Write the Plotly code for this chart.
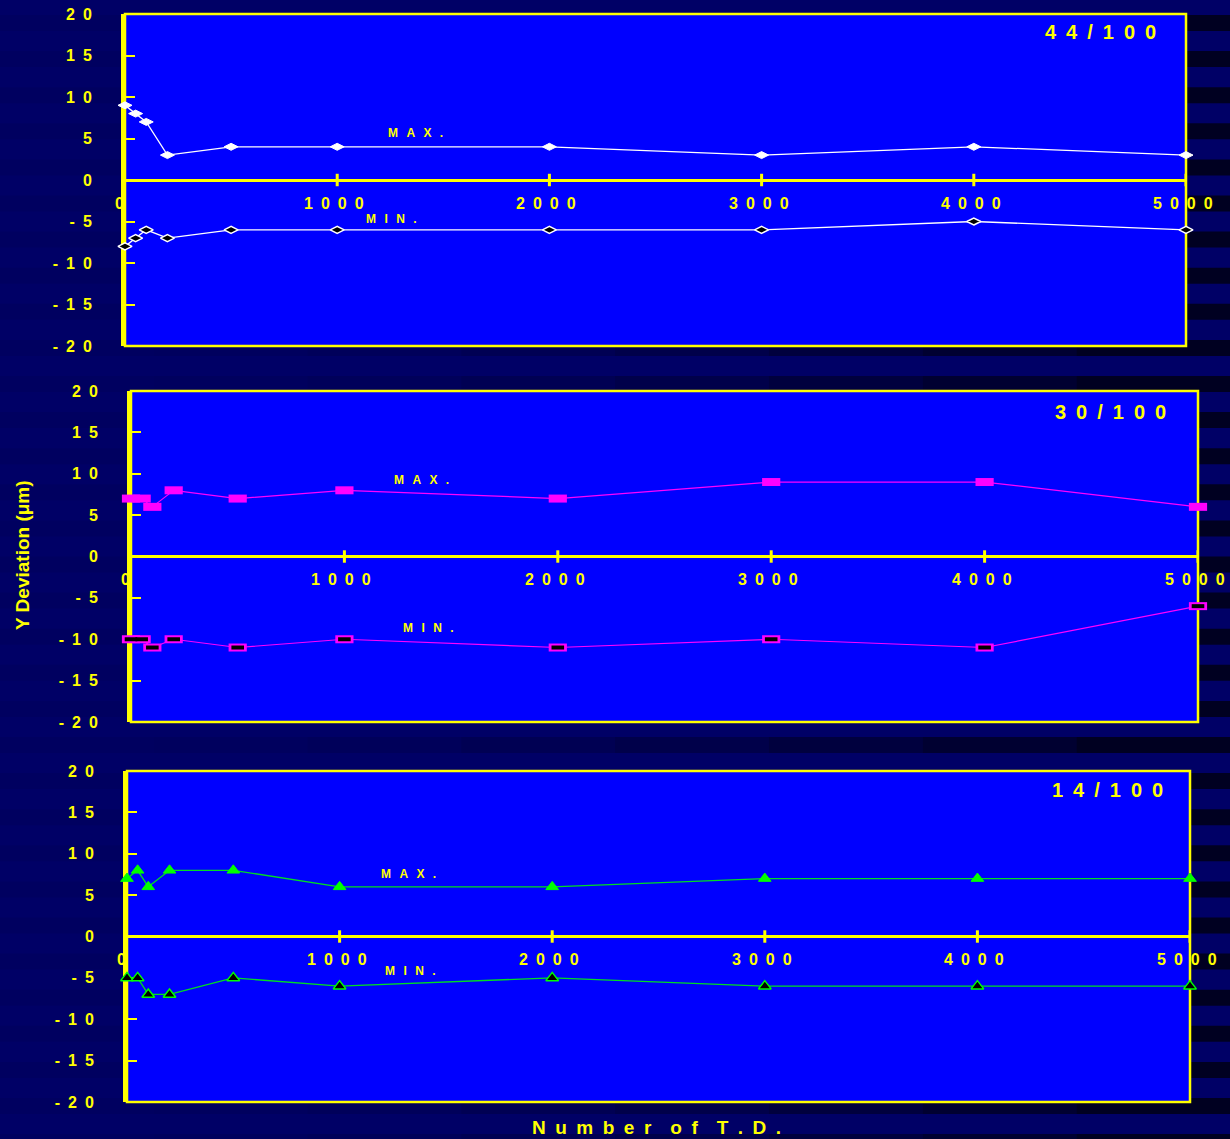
import plotly.graph_objects as go

# ---- data -------------------------------------------------------------
td = [0, 50, 100, 200, 500, 1000, 2000, 3000, 4000, 5000]

p44_max = [9, 8, 7, 3, 4, 4, 4, 3, 4, 3]
p44_min = [-8, -7, -6, -7, -6, -6, -6, -6, -5, -6]

p30_max = [7, 7, 6, 8, 7, 8, 7, 9, 9, 6]
p30_min = [-10, -10, -11, -10, -11, -10, -11, -10, -11, -6]

p14_max = [7, 8, 6, 8, 8, 6, 6, 7, 7, 7]
p14_min = [-5, -5, -7, -7, -5, -6, -5, -6, -6, -6]

panel_labels = ["44/100", "30/100", "14/100"]
x_ticks = [0, 1000, 2000, 3000, 4000, 5000]
y_ticks = [20, 15, 10, 5, 0, -5, -10, -15, -20]

# ---- styling ----------------------------------------------------------
W, H = 1230, 1139
YEL = "#FFFF00"
FONT = "Liberation Sans, Arial, sans-serif"
SP = "\u2002"


def spaced(s, sep=SP):
    return sep.join(list(s))


def px_dom(left, right, top, bottom):
    return [left / W, right / W], [1 - bottom / H, 1 - top / H]


# plot-area boxes (left, right, top, bottom) in pixels
boxes = [
    px_dom(125, 1186, 14, 346),
    px_dom(131, 1198, 391, 722),
    px_dom(127, 1190, 771, 1102),
]

fig = go.Figure()

# background bands: dark stripes, deepening towards the right
shapes = []
nseg = 8
y = 15.0
while y < H:
    for k in range(nseg):
        a = 0.05 + 0.62 * (k / (nseg - 1)) ** 1.8
        shapes.append(dict(
            type="rect", xref="paper", yref="paper", layer="below",
            x0=k / nseg, x1=(k + 1) / nseg,
            y0=max(0, 1 - (y + 16) / H), y1=1 - y / H,
            fillcolor=f"rgba(0,0,0,{a:.3f})", line=dict(width=0)))
    y += 36.1

series = [
    (p44_max, p44_min, "#FFFFFF", "diamond-wide"),
    (p30_max, p30_min, "#FF00FF", "rect"),
    (p14_max, p14_min, "#00FF00", "triangle-up"),
]

max_pos = [(1370, 5.7), (1362, 9.2), (1325, 7.5)]
min_pos = [(1257, -4.7), (1395, -8.6), (1335, -4.2)]
corner_pos = [(0.919, 0.946), (0.918, 0.937), (0.922, 0.943)]

annotations = []
layout_axes = {}

for i, ((xd, yd), (smax, smin, col, sym), lab) in enumerate(
        zip(boxes, series, panel_labels)):
    n = i + 1
    xa = "x" if n == 1 else f"x{n}"
    ya = "y" if n == 1 else f"y{n}"
    xkey = "xaxis" if n == 1 else f"xaxis{n}"
    ykey = "yaxis" if n == 1 else f"yaxis{n}"

    layout_axes[xkey] = dict(
        domain=xd, range=[0, 5000], anchor=ya, showgrid=False,
        zeroline=False, showline=False, showticklabels=False, ticks="",
        automargin=False)
    layout_axes[ykey] = dict(
        domain=yd, range=[-20, 20], anchor=xa, showgrid=False,
        zeroline=True, zerolinecolor=YEL, zerolinewidth=2.5,
        showline=True, linecolor=YEL, linewidth=4, layer="below traces",
        tickvals=y_ticks, ticktext=[spaced(str(v)) for v in y_ticks],
        ticks="inside", ticklen=10, tickwidth=2, tickcolor=YEL,
        ticklabelstandoff=26, automargin=False,
        tickfont=dict(family=FONT, size=16, color=YEL, weight="bold"))

    # plot area fill and frame
    shapes.append(dict(type="rect", xref=f"{xa} domain", yref=f"{ya} domain",
                       x0=0, x1=1, y0=0, y1=1, layer="below",
                       fillcolor="#0000FF", line=dict(width=0)))
    shapes.append(dict(type="rect", xref=f"{xa} domain", yref=f"{ya} domain",
                       x0=0, x1=1, y0=0, y1=1, layer="below",
                       fillcolor="rgba(0,0,0,0)", line=dict(color=YEL, width=2.5)))

    # x ticks crossing the zero line, with their labels
    for t in x_ticks:
        if t > 0:
            shapes.append(dict(type="line", xref=xa, yref=ya, x0=t, x1=t,
                               y0=-0.75, y1=0.75, layer="below",
                               line=dict(color=YEL, width=3)))
        annotations.append(dict(
            x=t, y=0, xref=xa, yref=ya, text=spaced(str(t)), showarrow=False,
            xanchor="center", yanchor="middle",
            xshift=-6 if t == 0 else -3, yshift=-23,
            font=dict(family=FONT, size=16, color=YEL, weight="bold")))

    # series
    if sym == "rect":
        for vals in (smax, smin):
            fig.add_trace(go.Scatter(
                x=td, y=vals, mode="lines", line=dict(color=col, width=1.2),
                xaxis=xa, yaxis=ya, showlegend=False, cliponaxis=False))
        for vals in (smax, smin):
            fig.add_trace(go.Scatter(
                x=td, y=vals, mode="markers",
                marker=dict(symbol="line-ew", size=13,
                            line=dict(color=col, width=8)),
                xaxis=xa, yaxis=ya, showlegend=False, cliponaxis=False))
        fig.add_trace(go.Scatter(
            x=td, y=smin, mode="markers",
            marker=dict(symbol="line-ew", size=9,
                        line=dict(color="#000000", width=4)),
            xaxis=xa, yaxis=ya, showlegend=False, cliponaxis=False))
    else:
        msize = 10 if sym == "diamond-wide" else 11
        lcol = col if sym == "diamond-wide" else "#00DD22"
        fig.add_trace(go.Scatter(
            x=td, y=smax, mode="lines+markers",
            line=dict(color=lcol, width=1.3),
            marker=dict(symbol=sym, size=msize, color=col,
                        line=dict(color=col, width=1)),
            xaxis=xa, yaxis=ya, showlegend=False, cliponaxis=False))
        fig.add_trace(go.Scatter(
            x=td, y=smin, mode="lines+markers",
            line=dict(color=lcol, width=1.3),
            marker=dict(symbol=sym, size=msize, color="#000000",
                        line=dict(color=col, width=1.5)),
            xaxis=xa, yaxis=ya, showlegend=False, cliponaxis=False))

    # in-plot labels
    small = dict(family=FONT, size=12, color=YEL, weight="bold")
    annotations.append(dict(x=max_pos[i][0], y=max_pos[i][1], xref=xa, yref=ya,
                            text=spaced("MAX.", "\u2002\u2009"), showarrow=False,
                            font=small))
    annotations.append(dict(x=min_pos[i][0], y=min_pos[i][1], xref=xa, yref=ya,
                            text=spaced("MIN.", "\u2002\u2009"), showarrow=False,
                            font=small))
    annotations.append(dict(x=corner_pos[i][0], y=corner_pos[i][1],
                            xref=f"{xa} domain", yref=f"{ya} domain",
                            text=spaced(lab), showarrow=False,
                            xanchor="center", yanchor="middle",
                            font=dict(family=FONT, size=20, color=YEL, weight="bold")))

# axis titles
annotations.append(dict(x=22 / W, y=1 - 555 / H, xref="paper", yref="paper",
                        text="Y Deviation (\u03bcm)", textangle=-90, showarrow=False,
                        xanchor="center", yanchor="middle",
                        font=dict(family=FONT, size=19, color=YEL, weight="bold")))
annotations.append(dict(x=656 / W, y=1 - 1127 / H, xref="paper", yref="paper",
                        text=f"{SP}{SP}".join(spaced(w) for w in ["Number", "of", "T.D."]),
                        showarrow=False, xanchor="center", yanchor="middle",
                        font=dict(family=FONT, size=19, color=YEL, weight="bold")))

fig.update_layout(
    width=W, height=H,
    margin=dict(l=0, r=0, t=0, b=0, pad=0, autoexpand=False),
    paper_bgcolor="#000066", plot_bgcolor="rgba(0,0,0,0)",
    showlegend=False,
    shapes=shapes, annotations=annotations, **layout_axes)

fig.write_html("out.html")
